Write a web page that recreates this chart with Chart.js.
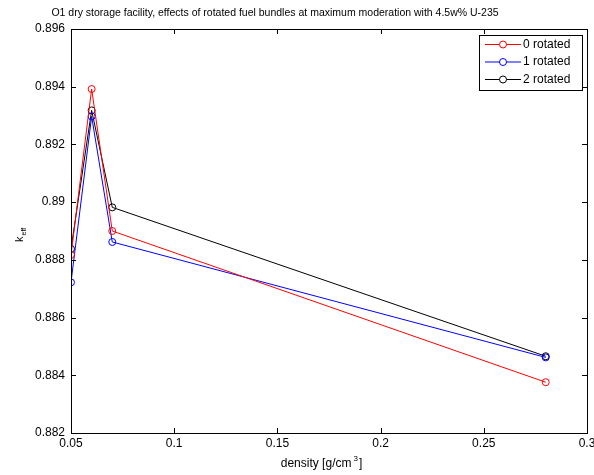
<!DOCTYPE html>
<html>
<head>
<meta charset="utf-8">
<title>O1 dry storage facility</title>
<script src="https://cdn.jsdelivr.net/npm/chart.js@4.4.1/dist/chart.umd.min.js"></script>
<style>
	html, body { margin: 0; padding: 0; background: #fff; }
	#chart { display: block; }
</style>
</head>
<body>
<canvas id="chart" width="594" height="475"></canvas>
<script>
// --- Data ---
const density = [0.05, 0.06, 0.07, 0.28];
const rotated0 = [0.88817, 0.89392, 0.88900, 0.88376];
const rotated1 = [0.88722, 0.89297, 0.88862, 0.88462];
const rotated2 = [0.88838, 0.89318, 0.88982, 0.88466];
const seriesNames = ['0 rotated', '1 rotated', '2 rotated'];
const seriesColors = ['#ff0000', '#0000ff', '#000000'];
const xTicks = [0.05, 0.1, 0.15, 0.2, 0.25, 0.3];
const yTicks = [0.882, 0.884, 0.886, 0.888, 0.89, 0.892, 0.894, 0.896];

const FONT = '"Liberation Sans", Arial, sans-serif';

function toPoints(ys) {
	return density.map((x, i) => ({ x: x, y: ys[i] }));
}

function fmt(v) {
	return String(+v.toFixed(3));
}

// Draws the axes box, inward ticks on all four sides, title, axis labels and legend
const matlabLook = {
	id: 'matlabLook',
	afterDraw(chart) {
		const ctx = chart.ctx;
		const a = chart.chartArea;
		const xs = chart.scales.x;
		const ys = chart.scales.y;
		const tl = 5;

		ctx.save();
		ctx.strokeStyle = '#000';
		ctx.lineWidth = 1;
		ctx.strokeRect(Math.round(a.left) + 0.5, Math.round(a.top) + 0.5,
			Math.round(a.right - a.left), Math.round(a.bottom - a.top));

		ctx.beginPath();
		xTicks.forEach((v) => {
			const px = Math.round(xs.getPixelForValue(v)) + 0.5;
			ctx.moveTo(px, a.bottom); ctx.lineTo(px, a.bottom - tl);
			ctx.moveTo(px, a.top); ctx.lineTo(px, a.top + tl);
		});
		yTicks.forEach((v) => {
			const py = Math.round(ys.getPixelForValue(v)) + 0.5;
			ctx.moveTo(a.left, py); ctx.lineTo(a.left + tl, py);
			ctx.moveTo(a.right, py); ctx.lineTo(a.right - tl, py);
		});
		ctx.stroke();

		// title
		ctx.fillStyle = '#000';
		ctx.font = '10.5px ' + FONT;
		ctx.textAlign = 'center';
		ctx.textBaseline = 'middle';
		ctx.fillText('O1 dry storage facility, effects of rotated fuel bundles at maximum moderation with 4.5w% U-235', 275, 13);

		// x label with superscript
		const xl = 'density [g/cm';
		ctx.font = '12px ' + FONT;
		const w1 = ctx.measureText(xl).width;
		ctx.font = '8px ' + FONT;
		const w2 = ctx.measureText('3').width;
		ctx.font = '12px ' + FONT;
		const w3 = ctx.measureText(']').width;
		let sx = 320 - (w1 + w2 + w3) / 2;
		ctx.textAlign = 'left';
		ctx.fillText(xl, sx, 464);
		ctx.font = '8px ' + FONT;
		ctx.fillText('3', sx + w1 + 2, 459);
		ctx.font = '12px ' + FONT;
		ctx.fillText(']', sx + w1 + w2 + 3, 464);

		// y label k_eff, rotated
		ctx.save();
		ctx.translate(20, 242);
		ctx.rotate(-Math.PI / 2);
		ctx.textAlign = 'left';
		ctx.font = '11px ' + FONT;
		ctx.fillText('k', 0, 0);
		const kw = ctx.measureText('k').width;
		ctx.font = '7px ' + FONT;
		ctx.fillText('eff', kw + 1, 4);
		ctx.restore();

		// legend
		const lx = 479, ly = 35, lw = 103, lh = 55;
		ctx.fillStyle = '#fff';
		ctx.fillRect(lx, ly, lw, lh);
		ctx.strokeStyle = '#000';
		ctx.strokeRect(lx + 0.5, ly + 0.5, lw, lh);
		ctx.font = '12px ' + FONT;
		ctx.textBaseline = 'middle';
		seriesNames.forEach((name, i) => {
			const yy = ly + 9.5 + i * 17.5;
			ctx.strokeStyle = seriesColors[i];
			ctx.beginPath();
			ctx.moveTo(lx + 6, yy); ctx.lineTo(lx + 42, yy);
			ctx.stroke();
			ctx.beginPath();
			ctx.arc(lx + 24, yy, 3.5, 0, Math.PI * 2);
			ctx.fillStyle = '#fff';
			ctx.fill();
			ctx.stroke();
			ctx.fillStyle = '#000';
			ctx.fillText(name, lx + 44, yy);
		});
		ctx.restore();
	}
};

document.addEventListener('DOMContentLoaded', function () {
	const ctx = document.getElementById('chart').getContext('2d');
	const sets = [rotated0, rotated1, rotated2].map((ys, i) => ({
		label: seriesNames[i],
		data: toPoints(ys),
		borderColor: seriesColors[i],
		backgroundColor: 'rgba(0,0,0,0)',
		borderWidth: 1,
		pointRadius: 3.5,
		pointBorderWidth: 1,
		pointBackgroundColor: 'rgba(0,0,0,0)',
		pointBorderColor: seriesColors[i],
		tension: 0,
		fill: false
	}));

	new Chart(ctx, {
		type: 'line',
		data: { datasets: sets },
		options: {
			responsive: false,
			animation: false,
			devicePixelRatio: 1,
			layout: { padding: { top: 29, right: 7, left: 0, bottom: 0 } },
			plugins: {
				legend: { display: false },
				title: { display: false },
				tooltip: { enabled: false }
			},
			scales: {
				x: {
					type: 'linear',
					min: 0.05,
					max: 0.3,
					afterBuildTicks: (s) => { s.ticks = xTicks.map((v) => ({ value: v })); },
					afterFit: (s) => { s.height = 42; s.paddingLeft = 0; s.paddingRight = 0; },
					grid: { display: false, drawTicks: false },
					border: { display: false },
					ticks: {
						callback: (v) => fmt(v),
						color: '#000',
						font: { family: FONT, size: 12 },
						padding: 3,
						maxRotation: 0,
						autoSkip: false
					}
				},
				y: {
					type: 'linear',
					min: 0.882,
					max: 0.896,
					afterBuildTicks: (s) => { s.ticks = yTicks.map((v) => ({ value: v })); },
					afterFit: (s) => { s.width = 71; s.paddingTop = 0; s.paddingBottom = 0; },
					grid: { display: false, drawTicks: false },
					border: { display: false },
					ticks: {
						callback: (v) => fmt(v),
						color: '#000',
						font: { family: FONT, size: 12 },
						padding: 6,
						autoSkip: false
					}
				}
			}
		},
		plugins: [matlabLook]
	});
});
</script>
</body>
</html>
